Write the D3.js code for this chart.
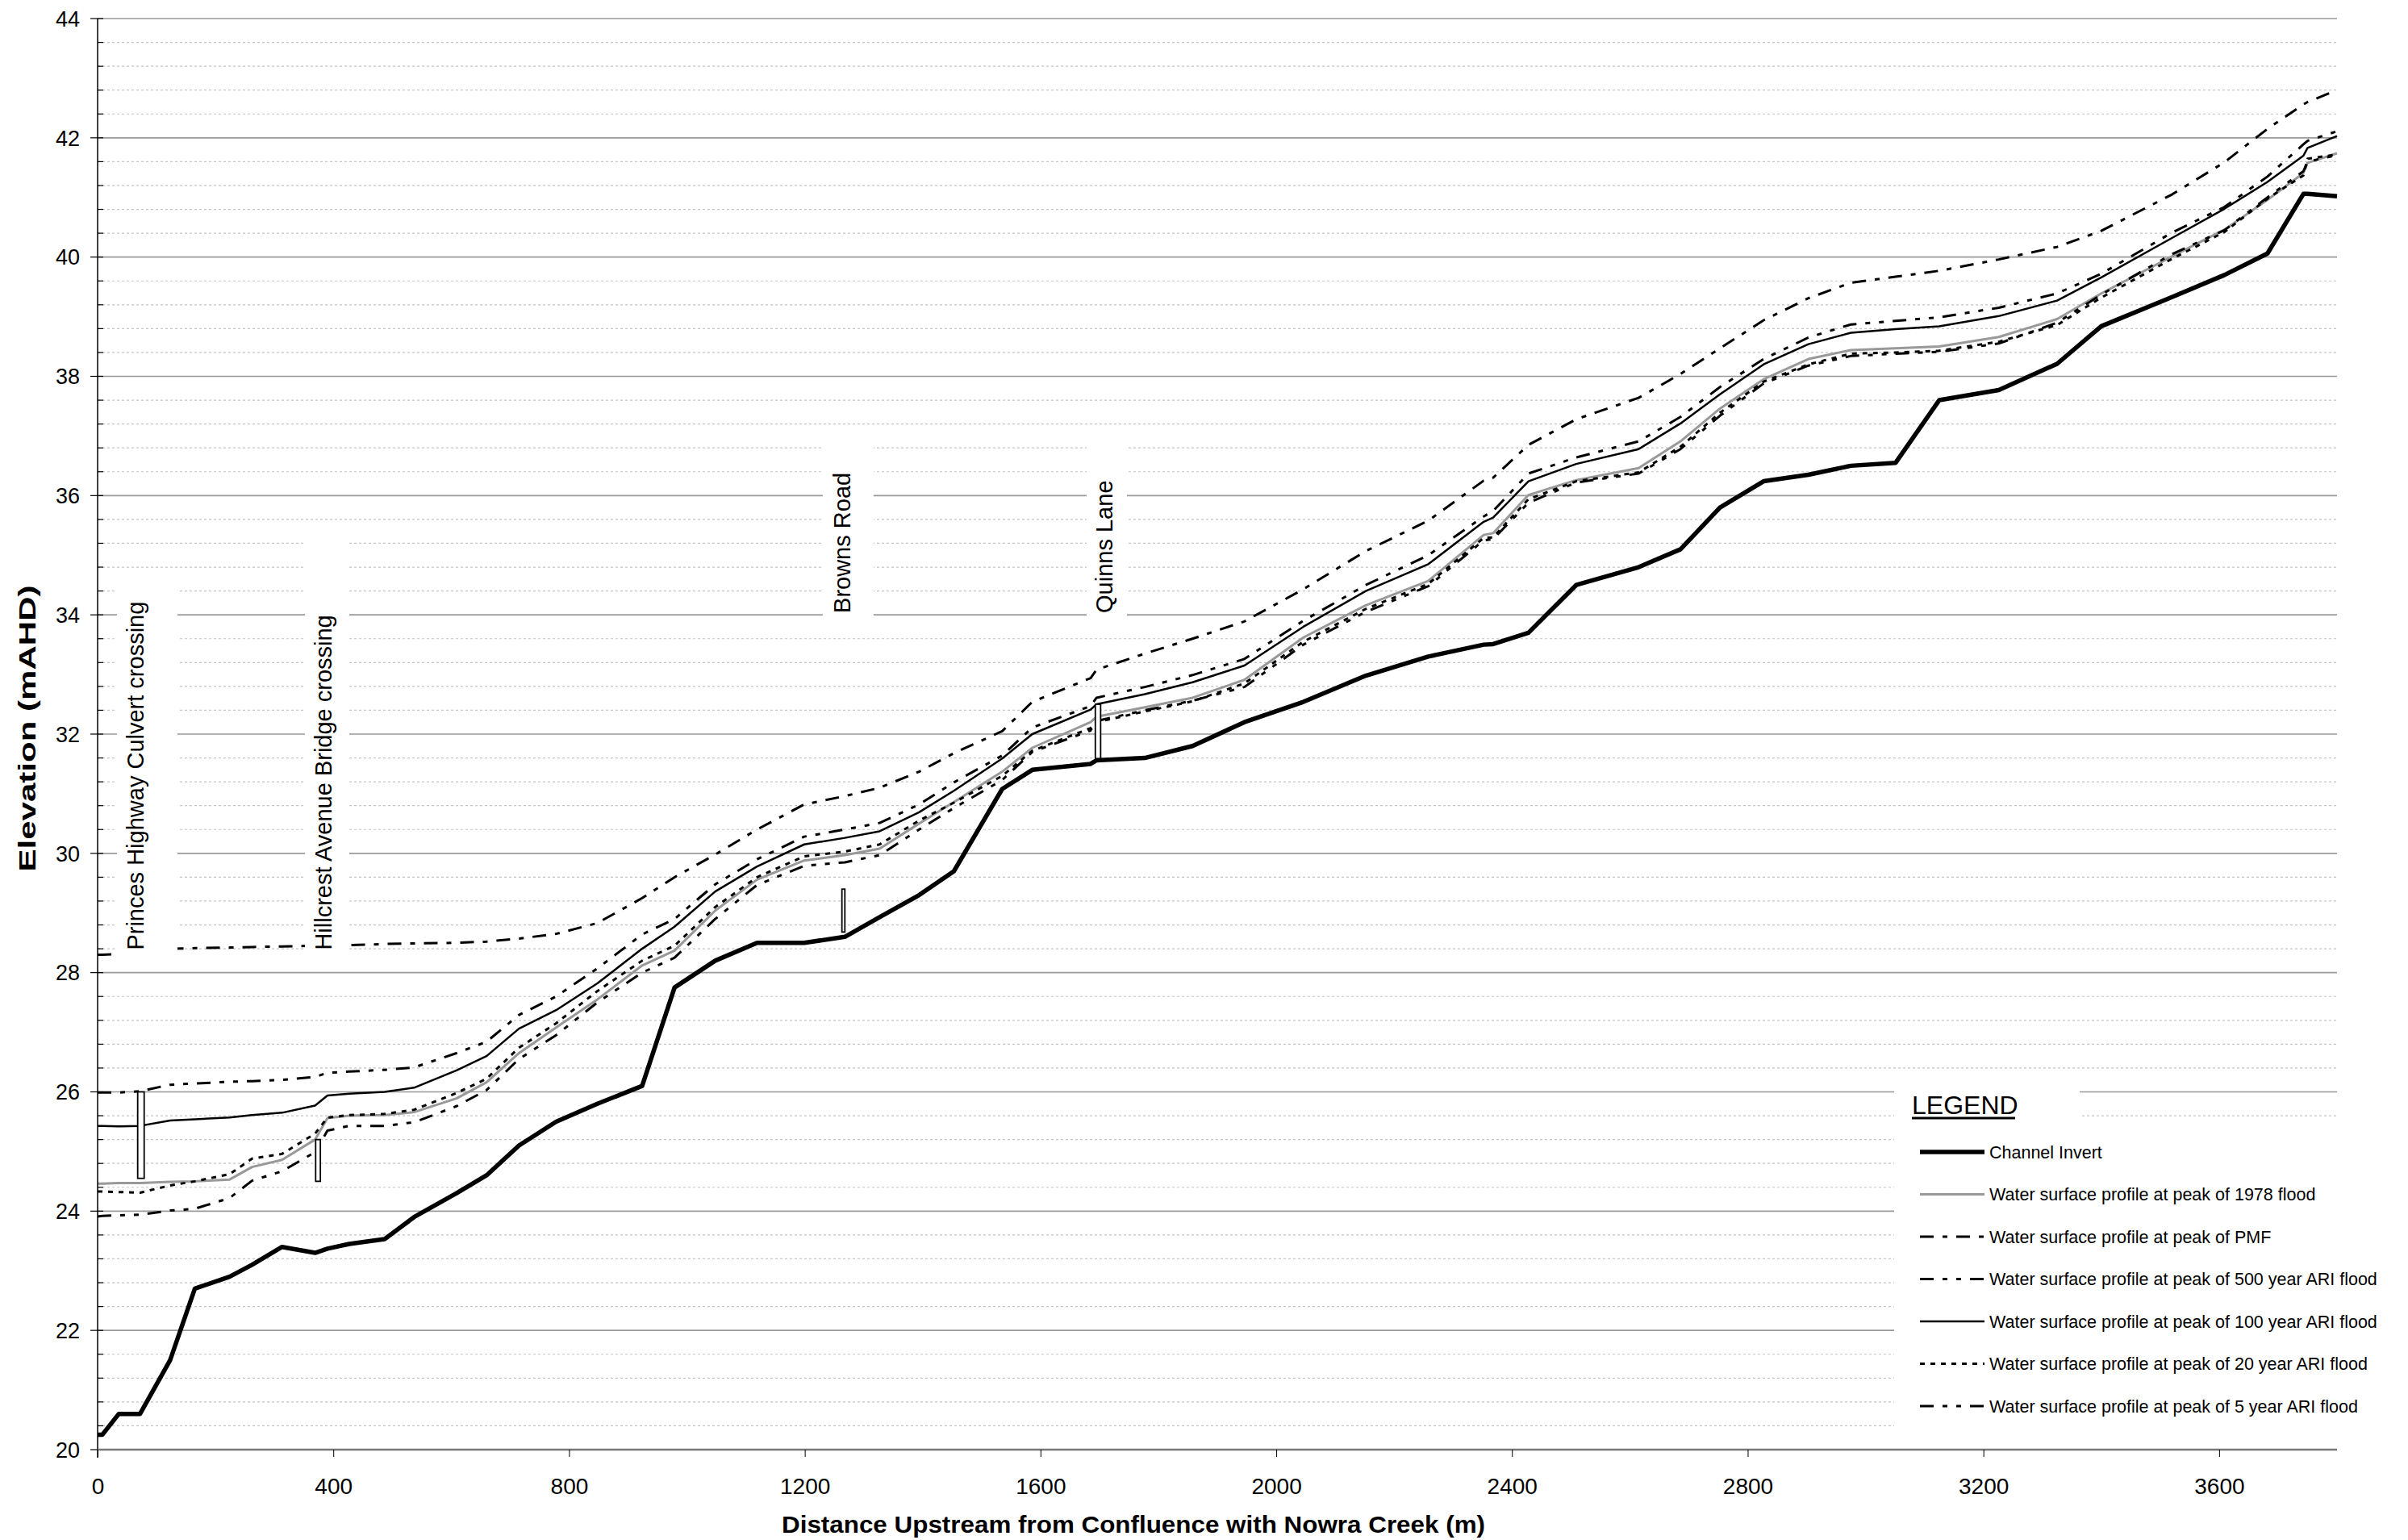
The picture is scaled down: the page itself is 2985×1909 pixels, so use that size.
<!DOCTYPE html>
<html>
<head>
<meta charset="utf-8">
<script src="https://cdn.jsdelivr.net/npm/d3@7"></script>
<style>
  body { margin: 0; background: #fff; }
  text { font-family: "Liberation Sans", Arial, sans-serif; }
</style>
</head>
<body>
<script>
var width = 2985, height = 1909;

// chainage (m upstream of Nowra Creek confluence)
var chainage = [0, 8, 36, 72, 123, 165, 224, 262, 313, 369, 390, 427, 487, 537, 609, 660, 715, 778, 848, 924,
	979, 1048, 1119, 1199, 1268, 1327, 1394, 1453, 1535, 1586, 1685, 1695, 1777, 1858, 1946, 2046, 2152, 2258, 2352, 2368,
	2428, 2509, 2615, 2686, 2753, 2827, 2903, 2975, 3051, 3125, 3226, 3325, 3400, 3520, 3609, 3682, 3743, 3750, 3800];

var invert = [20.25, 20.25, 20.6, 20.6, 21.5, 22.7, 22.9, 23.1, 23.4, 23.3, 23.37, 23.45, 23.53, 23.9, 24.3, 24.6, 25.1, 25.5, 25.8, 26.1,
	27.75, 28.2, 28.5, 28.5, 28.6, 28.93, 29.3, 29.7, 31.08, 31.4, 31.5, 31.56, 31.6, 31.8, 32.2, 32.54, 32.98, 33.3, 33.5, 33.51,
	33.7, 34.5, 34.8, 35.1, 35.8, 36.24, 36.35, 36.5, 36.55, 37.6, 37.77, 38.21, 38.84, 39.33, 39.7, 40.06, 41.06, 41.06, 41.02];

var flood1978 = [24.46, 24.46, 24.47, 24.47, 24.49, 24.50, 24.53, 24.74, 24.86, 25.20, 25.56, 25.60, 25.61, 25.66, 25.89, 26.16, 26.65, 27.08, 27.55, 28.12,
	28.37, 29.04, 29.56, 29.88, 29.97, 30.08, 30.50, 30.86, 31.37, 31.77, 32.20, 32.29, 32.45, 32.61, 32.91, 33.62, 34.16, 34.57, 35.34, 35.37,
	36.01, 36.26, 36.46, 36.91, 37.46, 37.95, 38.29, 38.44, 38.47, 38.50, 38.66, 38.96, 39.39, 40.01, 40.46, 40.96, 41.41, 41.58, 41.74];

var pmf = [28.30, 28.30, 28.31, 28.33, 28.40, 28.41, 28.42, 28.43, 28.44, 28.45, 28.46, 28.46, 28.48, 28.49, 28.50, 28.52, 28.57, 28.65, 28.83, 29.25,
	29.60, 29.98, 30.40, 30.82, 30.96, 31.10, 31.37, 31.68, 32.05, 32.54, 32.94, 33.08, 33.35, 33.60, 33.89, 34.43, 35.07, 35.58, 36.25, 36.30,
	36.85, 37.28, 37.64, 38.04, 38.47, 38.94, 39.31, 39.57, 39.67, 39.77, 39.96, 40.17, 40.44, 41.05, 41.59, 42.15, 42.56, 42.60, 42.80];

var ari500 = [25.99, 25.99, 25.99, 26.01, 26.12, 26.14, 26.17, 26.18, 26.20, 26.25, 26.32, 26.34, 26.37, 26.41, 26.65, 26.84, 27.29, 27.60, 28.07, 28.64,
	28.90, 29.48, 29.90, 30.28, 30.40, 30.51, 30.82, 31.19, 31.64, 32.11, 32.47, 32.61, 32.79, 32.99, 33.26, 33.90, 34.50, 35.00, 35.65, 35.74,
	36.37, 36.64, 36.91, 37.32, 37.82, 38.29, 38.65, 38.87, 38.93, 38.99, 39.15, 39.39, 39.72, 40.41, 40.84, 41.35, 41.89, 41.95, 42.11];

var ari100 = [25.43, 25.43, 25.42, 25.43, 25.52, 25.54, 25.57, 25.61, 25.65, 25.77, 25.94, 25.97, 26.00, 26.07, 26.36, 26.60, 27.06, 27.37, 27.82, 28.40,
	28.77, 29.36, 29.78, 30.15, 30.26, 30.37, 30.69, 31.05, 31.59, 32.00, 32.41, 32.50, 32.67, 32.87, 33.15, 33.80, 34.40, 34.85, 35.56, 35.63,
	36.24, 36.53, 36.78, 37.21, 37.70, 38.20, 38.54, 38.73, 38.79, 38.84, 39.01, 39.27, 39.66, 40.32, 40.81, 41.26, 41.70, 41.83, 42.03];

var ari20 = [24.33, 24.33, 24.32, 24.31, 24.43, 24.50, 24.62, 24.88, 24.96, 25.30, 25.57, 25.61, 25.63, 25.70, 25.98, 26.22, 26.74, 27.15, 27.69, 28.20,
	28.45, 29.10, 29.60, 29.95, 30.03, 30.15, 30.55, 30.85, 31.30, 31.72, 32.10, 32.20, 32.38, 32.55, 32.85, 33.55, 34.10, 34.52, 35.29, 35.30,
	35.94, 36.24, 36.39, 36.82, 37.39, 37.91, 38.20, 38.38, 38.40, 38.43, 38.58, 38.86, 39.32, 39.97, 40.42, 40.98, 41.37, 41.65, 41.72];

var ari5 = [23.91, 23.92, 23.93, 23.94, 24.01, 24.04, 24.22, 24.51, 24.67, 24.99, 25.35, 25.43, 25.43, 25.49, 25.76, 26.03, 26.55, 26.95, 27.50, 28.00,
	28.25, 28.90, 29.47, 29.79, 29.85, 29.97, 30.40, 30.76, 31.23, 31.70, 32.06, 32.22, 32.40, 32.56, 32.79, 33.50, 34.05, 34.48, 35.25, 35.27,
	35.88, 36.22, 36.37, 36.78, 37.34, 37.88, 38.18, 38.34, 38.38, 38.41, 38.55, 38.90, 39.37, 40.05, 40.45, 41.00, 41.44, 41.60, 41.71];

// crossings: name, label chainage, label start elevation, structure extent
var crossingNames = ["Princes Highway Culvert crossing", "Hillcrest Avenue Bridge crossing", "Browns Road", "Quinns Lane"];
var labelChainage = [78, 397, 1277, 1722];
var labelElev = [28.38, 28.38, 34.03, 34.03];
var structFrom = [68, 370, 1263, 1693];
var structTo = [79, 378, 1268, 1702];
var structLow = [24.55, 24.5, 28.68, 31.59];
var structHigh = [26.0, 25.2, 29.4, 32.5];

// white label boxes (px around the label anchor)
var boxLeft = [-33, -33, -34, -32];
var boxRight = [42, 22, 29, 18];
var boxAbove = [27, 110, 48, 56];

var legendNames = ["Channel Invert", "Water surface profile at peak of 1978 flood", "Water surface profile at peak of PMF",
	"Water surface profile at peak of 500 year ARI flood", "Water surface profile at peak of 100 year ARI flood",
	"Water surface profile at peak of 20 year ARI flood", "Water surface profile at peak of 5 year ARI flood"];

var xTicks = [0, 400, 800, 1200, 1600, 2000, 2400, 2800, 3200, 3600];

var series = [
	{name: legendNames[0], values: invert, color: "#000", w: 5.5, dash: null},
	{name: legendNames[1], values: flood1978, color: "#999", w: 3, dash: null},
	{name: legendNames[2], values: pmf, color: "#000", w: 3, dash: "17,11,6,11"},
	{name: legendNames[3], values: ari500, color: "#000", w: 3, dash: "17,11,6,11,6,11"},
	{name: legendNames[4], values: ari100, color: "#000", w: 2.5, dash: null},
	{name: legendNames[5], values: ari20, color: "#000", w: 3, dash: "6,7"},
	{name: legendNames[6], values: ari5, color: "#000", w: 3, dash: "17,11,6,11,6,11"}
];

var x = d3.scaleLinear().domain([0, 3800]).range([121, 2897]);
var y = d3.scaleLinear().domain([20, 44]).range([1797, 23]);

var svg = d3.select("body").append("svg")
	.attr("width", width)
	.attr("height", height);

// gridlines
var minor = d3.range(1, 61).filter(function(i) { return i % 5 != 0; }).map(function(i) { return 20 + i * 0.4; });
var major = d3.range(22, 45, 2);

svg.append("g").selectAll("line")
	.data(minor)
	.enter().append("line")
	.attr("x1", x(0)).attr("x2", x(3800))
	.attr("y1", function(d) { return y(d); }).attr("y2", function(d) { return y(d); })
	.attr("stroke", "#c4c4c4").attr("stroke-width", 1.2).attr("stroke-dasharray", "3,3");

svg.append("g").selectAll("line")
	.data(major)
	.enter().append("line")
	.attr("x1", x(0)).attr("x2", x(3800))
	.attr("y1", function(d) { return y(d); }).attr("y2", function(d) { return y(d); })
	.attr("stroke", "#999").attr("stroke-width", 1.6);

// profiles
var line = d3.line()
	.x(function(d, i) { return x(chainage[i]); })
	.y(function(d) { return y(d); });

var drawOrder = [1, 6, 5, 4, 3, 2, 0];
drawOrder.forEach(function(k) {
	var s = series[k];
	svg.append("path")
		.datum(s.values)
		.attr("d", line)
		.attr("fill", "none")
		.attr("stroke", s.color)
		.attr("stroke-width", s.w)
		.attr("stroke-linejoin", "round")
		.attr("stroke-dasharray", s.dash);
});

// structures
svg.append("g").selectAll("rect")
	.data(crossingNames)
	.enter().append("rect")
	.attr("x", function(d, i) { return x(structFrom[i]); })
	.attr("y", function(d, i) { return y(structHigh[i]); })
	.attr("width", function(d, i) { return x(structTo[i]) - x(structFrom[i]); })
	.attr("height", function(d, i) { return y(structLow[i]) - y(structHigh[i]); })
	.attr("fill", "#fff").attr("stroke", "#000").attr("stroke-width", 1.8);

// crossing labels with white boxes
var labels = svg.append("g").selectAll("g")
	.data(crossingNames)
	.enter().append("g")
	.attr("transform", function(d, i) { return "translate(" + x(labelChainage[i]) + "," + y(labelElev[i]) + ")"; });

labels.append("text")
	.attr("transform", "rotate(-90)")
	.attr("font-size", 29)
	.text(function(d) { return d; });

labels.each(function(d, i) {
	var g = d3.select(this), len = g.select("text").node().getComputedTextLength();
	g.insert("rect", "text")
		.attr("x", boxLeft[i]).attr("y", -len - boxAbove[i])
		.attr("width", boxRight[i] - boxLeft[i]).attr("height", len + boxAbove[i] + 14)
		.attr("fill", "#fff");
});

// axes
svg.append("line")
	.attr("x1", x(0)).attr("x2", x(0)).attr("y1", y(44)).attr("y2", y(20) + 10)
	.attr("stroke", "#000").attr("stroke-width", 1.5);

svg.append("g").selectAll("line")
	.data(minor)
	.enter().append("line")
	.attr("x1", x(0)).attr("x2", x(0) + 7)
	.attr("y1", function(d) { return y(d); }).attr("y2", function(d) { return y(d); })
	.attr("stroke", "#000").attr("stroke-width", 1.2);

svg.append("g").selectAll("line")
	.data(d3.range(20, 45, 2))
	.enter().append("line")
	.attr("x1", x(0) - 9).attr("x2", x(0) + 7)
	.attr("y1", function(d) { return y(d); }).attr("y2", function(d) { return y(d); })
	.attr("stroke", "#000").attr("stroke-width", 1.2);

svg.append("g").selectAll("text")
	.data(d3.range(20, 45, 2))
	.enter().append("text")
	.attr("x", x(0) - 22)
	.attr("y", function(d) { return y(d); })
	.attr("dy", "0.36em")
	.attr("text-anchor", "end")
	.attr("font-size", 27)
	.text(function(d) { return d; });

svg.append("line")
	.attr("x1", x(0)).attr("x2", x(3800)).attr("y1", y(20)).attr("y2", y(20))
	.attr("stroke", "#777").attr("stroke-width", 2.5);

var xAxis = d3.axisBottom(x).tickValues(xTicks).tickSize(9).tickPadding(26).tickFormat(d3.format("d"));
var gx = svg.append("g")
	.attr("transform", "translate(0," + y(20) + ")")
	.call(xAxis);
gx.select(".domain").remove();
gx.selectAll("text").attr("font-size", 28).attr("font-family", "Liberation Sans, Arial, sans-serif").attr("fill", "#000");
gx.selectAll("line").attr("stroke", "#000");

svg.append("text")
	.attr("text-anchor", "middle")
	.attr("x", 1405).attr("y", 1900)
	.attr("font-size", 30).attr("font-weight", "bold")
	.attr("textLength", 872).attr("lengthAdjust", "spacingAndGlyphs")
	.text("Distance Upstream from Confluence with Nowra Creek (m)");

svg.append("text")
	.attr("text-anchor", "middle")
	.attr("transform", "translate(44," + 903 + ")rotate(-90)")
	.attr("font-size", 30).attr("font-weight", "bold")
	.attr("textLength", 355).attr("lengthAdjust", "spacingAndGlyphs")
	.text("Elevation (mAHD)");

// legend
var lg = svg.append("g");
lg.append("rect").attr("x", 2348).attr("y", 1335).attr("width", 230).attr("height", 70).attr("fill", "#fff");
lg.append("rect").attr("x", 2348).attr("y", 1398).attr("width", 2897 - 2348).attr("height", 1795 - 1398).attr("fill", "#fff");
lg.append("text").attr("x", 2370).attr("y", 1381).attr("font-size", 32).text("LEGEND");
lg.append("line").attr("x1", 2370).attr("x2", 2498).attr("y1", 1386).attr("y2", 1386)
	.attr("stroke", "#000").attr("stroke-width", 3);

var entries = lg.selectAll(".legend")
	.data(series)
	.enter().append("g")
	.attr("class", "legend")
	.attr("transform", function(d, i) { return "translate(2380," + (1428 + i * 52.5) + ")"; });

entries.append("line")
	.attr("x1", 0).attr("x2", 80)
	.attr("stroke", function(d) { return d.color; })
	.attr("stroke-width", function(d) { return d.w; })
	.attr("stroke-dasharray", function(d) { return d.dash; });

entries.append("text")
	.attr("x", 86)
	.attr("dy", "0.35em")
	.attr("font-size", 21.5)
	.text(function(d) { return d.name; });
</script>
</body>
</html>
